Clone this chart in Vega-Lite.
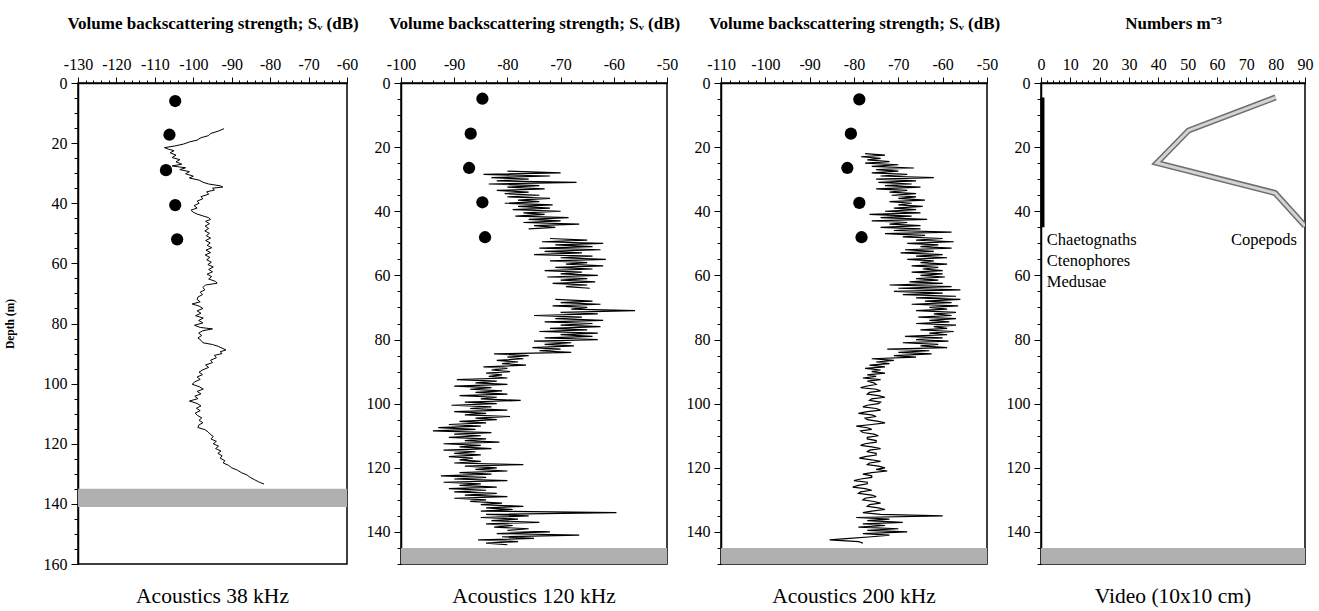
{
"$schema": "https://vega.github.io/schema/vega-lite/v6.json",
"padding": {"left": 3, "top": 13, "right": 0, "bottom": 0},
"background": "white",
"spacing": 54,
"bounds": "flush",
"config": {
  "font": "Liberation Serif",
  "view": {"stroke": "#000", "strokeWidth": 1.5},
  "axis": {"domainColor": "#000", "domainWidth": 1.5, "tickColor": "#000", "tickWidth": 1, "labelFont": "Liberation Serif", "labelFontSize": 16, "labelColor": "#000", "titleFont": "Liberation Serif", "titleColor": "#000", "titleFontWeight": "bold", "grid": false, "labelOverlap": false, "labelFlush": false, "labelBound": false, "tickCount": 200},
  "axisX": {"titleFontSize": 17},
  "axisY": {"titleFontSize": 11.5},
  "title": {"font": "Liberation Serif", "fontSize": 21.5, "fontWeight": "normal", "color": "#000", "orient": "bottom", "anchor": "middle", "offset": 14}
},
"datasets": {
  "s38": [{"d":15.2,"v":-92},{"d":16,"v":-93.5},{"d":16.8,"v":-95.5},{"d":17.5,"v":-96},{"d":18.2,"v":-98},{"d":19,"v":-99},{"d":19.6,"v":-101},{"d":20.3,"v":-102.5},{"d":21,"v":-105},{"d":21.5,"v":-107.5},{"d":22,"v":-106.5},{"d":22.5,"v":-105},{"d":23.2,"v":-106},{"d":24,"v":-104.5},{"d":24.8,"v":-105.5},{"d":25.5,"v":-103.5},{"d":26.2,"v":-104.5},{"d":27,"v":-103},{"d":27.6,"v":-105.5},{"d":28.2,"v":-102},{"d":28.8,"v":-103.5},{"d":29.5,"v":-101},{"d":30.2,"v":-102},{"d":31,"v":-100},{"d":31.6,"v":-101},{"d":32.3,"v":-98.5},{"d":33,"v":-97.5},{"d":33.6,"v":-96},{"d":34.2,"v":-93},{"d":34.6,"v":-92.3},{"d":35,"v":-95},{"d":35.6,"v":-94.5},{"d":36.2,"v":-96.5},{"d":37,"v":-96},{"d":37.8,"v":-98},{"d":38.5,"v":-97.5},{"d":39.3,"v":-99},{"d":40,"v":-98.5},{"d":40.8,"v":-99.8},{"d":41.6,"v":-99},{"d":42.3,"v":-100.6},{"d":43,"v":-100},{"d":43.6,"v":-99},{"d":44.2,"v":-97.5},{"d":44.8,"v":-96},{"d":45.4,"v":-95.5},{"d":46,"v":-96.8},{"d":46.8,"v":-95.8},{"d":47.6,"v":-96.9},{"d":48.4,"v":-96},{"d":49.2,"v":-97},{"d":50,"v":-95.8},{"d":50.8,"v":-96.6},{"d":51.6,"v":-95.5},{"d":52.4,"v":-96.8},{"d":53.2,"v":-95.6},{"d":54,"v":-96.4},{"d":54.8,"v":-95.2},{"d":55.6,"v":-96.7},{"d":56.4,"v":-95.5},{"d":57.2,"v":-96.9},{"d":58,"v":-95.7},{"d":58.8,"v":-96.5},{"d":59.6,"v":-95.3},{"d":60.4,"v":-96.2},{"d":61.2,"v":-94.8},{"d":62,"v":-96},{"d":62.8,"v":-95},{"d":63.6,"v":-96.4},{"d":64.4,"v":-95.2},{"d":65.2,"v":-96},{"d":66,"v":-94.2},{"d":66.6,"v":-93.8},{"d":67.2,"v":-96.8},{"d":68,"v":-97.5},{"d":68.8,"v":-97},{"d":69.6,"v":-98.2},{"d":70.4,"v":-97.6},{"d":71.2,"v":-98.8},{"d":72,"v":-99},{"d":72.8,"v":-98.2},{"d":73.5,"v":-100.3},{"d":74.2,"v":-98.5},{"d":75,"v":-97.5},{"d":75.8,"v":-99},{"d":76.6,"v":-98},{"d":77.4,"v":-99.4},{"d":78.2,"v":-97.4},{"d":79,"v":-98.6},{"d":79.8,"v":-97.5},{"d":80.6,"v":-99.7},{"d":81.3,"v":-98.2},{"d":81.8,"v":-95},{"d":82.4,"v":-97.5},{"d":83.2,"v":-98.6},{"d":84,"v":-97.8},{"d":84.8,"v":-98.8},{"d":85.6,"v":-98},{"d":86.4,"v":-97.5},{"d":87,"v":-95},{"d":87.6,"v":-93.5},{"d":88.2,"v":-92.5},{"d":88.8,"v":-91.5},{"d":89.4,"v":-93},{"d":90,"v":-92.5},{"d":90.6,"v":-94.5},{"d":91.4,"v":-94},{"d":92.2,"v":-95.5},{"d":93,"v":-95},{"d":93.8,"v":-96.8},{"d":94.6,"v":-96},{"d":95.4,"v":-97.5},{"d":96.2,"v":-98.5},{"d":97,"v":-97.6},{"d":97.8,"v":-99},{"d":98.6,"v":-98.2},{"d":99.4,"v":-99.6},{"d":100.2,"v":-100.3},{"d":101,"v":-98.5},{"d":101.8,"v":-97.4},{"d":102.6,"v":-99},{"d":103.4,"v":-98},{"d":104.2,"v":-99.6},{"d":105,"v":-98.8},{"d":105.8,"v":-101},{"d":106.6,"v":-99},{"d":107.4,"v":-98},{"d":108.2,"v":-99.2},{"d":109,"v":-98.2},{"d":109.8,"v":-99.5},{"d":110.6,"v":-98.9},{"d":111.4,"v":-97.8},{"d":112.2,"v":-98.5},{"d":113,"v":-97.5},{"d":113.8,"v":-98.6},{"d":114.6,"v":-98.8},{"d":115.3,"v":-97},{"d":116,"v":-96.2},{"d":116.8,"v":-95.6},{"d":117.6,"v":-94.8},{"d":118.4,"v":-95.4},{"d":119.2,"v":-94},{"d":120,"v":-94.8},{"d":120.8,"v":-93.4},{"d":121.6,"v":-94.2},{"d":122.4,"v":-92.8},{"d":123.2,"v":-93.6},{"d":124,"v":-92.5},{"d":124.8,"v":-93},{"d":125.6,"v":-91.8},{"d":126.4,"v":-92.2},{"d":127.2,"v":-90.8},{"d":128,"v":-90},{"d":128.8,"v":-88.5},{"d":129.6,"v":-87.5},{"d":130.4,"v":-86},{"d":131.2,"v":-85.2},{"d":132,"v":-84},{"d":132.8,"v":-82.8},{"d":133.4,"v":-81.6}],
  "s120": [{"s":1,"d":27.5,"v":-80},{"s":1,"d":28,"v":-70},{"s":1,"d":28.5,"v":-84.5},{"s":1,"d":29,"v":-72},{"s":1,"d":29.5,"v":-83},{"s":1,"d":30,"v":-76},{"s":1,"d":30.5,"v":-82},{"s":1,"d":31,"v":-67},{"s":1,"d":31.5,"v":-83.5},{"s":1,"d":32,"v":-74},{"s":1,"d":32.5,"v":-80},{"s":1,"d":33,"v":-73},{"s":1,"d":33.5,"v":-82},{"s":1,"d":34,"v":-76},{"s":1,"d":34.5,"v":-80.5},{"s":1,"d":35,"v":-74},{"s":1,"d":35.5,"v":-80},{"s":1,"d":36,"v":-72},{"s":1,"d":36.5,"v":-78},{"s":1,"d":37,"v":-74},{"s":1,"d":37.5,"v":-80.5},{"s":1,"d":38,"v":-71.5},{"s":1,"d":38.5,"v":-78},{"s":1,"d":39,"v":-72},{"s":1,"d":39.5,"v":-79},{"s":1,"d":40,"v":-70},{"s":1,"d":40.5,"v":-77},{"s":1,"d":41,"v":-73},{"s":1,"d":41.5,"v":-78.5},{"s":1,"d":42,"v":-68.5},{"s":1,"d":42.5,"v":-76},{"s":1,"d":43,"v":-70},{"s":1,"d":43.5,"v":-77},{"s":1,"d":44,"v":-66.5},{"s":1,"d":44.5,"v":-75},{"s":1,"d":45,"v":-71},{"s":1,"d":45.5,"v":-76},
  {"s":2,"d":48.5,"v":-72},{"s":2,"d":49,"v":-65},{"s":2,"d":49.5,"v":-73.5},{"s":2,"d":50,"v":-62},{"s":2,"d":50.5,"v":-71},{"s":2,"d":51,"v":-64},{"s":2,"d":51.5,"v":-74},{"s":2,"d":52,"v":-62.5},{"s":2,"d":52.5,"v":-73},{"s":2,"d":53,"v":-66},{"s":2,"d":53.5,"v":-75},{"s":2,"d":54,"v":-64},{"s":2,"d":54.5,"v":-70},{"s":2,"d":55,"v":-61.5},{"s":2,"d":55.5,"v":-72},{"s":2,"d":56,"v":-65},{"s":2,"d":56.5,"v":-69},{"s":2,"d":57,"v":-62},{"s":2,"d":57.5,"v":-71},{"s":2,"d":58,"v":-64},{"s":2,"d":58.5,"v":-73},{"s":2,"d":59,"v":-66},{"s":2,"d":59.5,"v":-70},{"s":2,"d":60,"v":-63},{"s":2,"d":60.5,"v":-72.5},{"s":2,"d":61,"v":-65},{"s":2,"d":61.5,"v":-70},{"s":2,"d":62,"v":-63.5},{"s":2,"d":62.5,"v":-71.5},{"s":2,"d":63,"v":-65},{"s":2,"d":63.5,"v":-69},{"s":2,"d":64,"v":-64.5},
  {"s":3,"d":67.5,"v":-71},{"s":3,"d":68,"v":-64},{"s":3,"d":68.5,"v":-70},{"s":3,"d":69,"v":-62.5},{"s":3,"d":69.5,"v":-71.5},{"s":3,"d":70,"v":-65},{"s":3,"d":70.5,"v":-68},{"s":3,"d":71,"v":-56},{"s":3,"d":71.5,"v":-70},{"s":3,"d":72,"v":-63},{"s":3,"d":72.5,"v":-75},{"s":3,"d":73,"v":-66},{"s":3,"d":73.5,"v":-71},{"s":3,"d":74,"v":-62},{"s":3,"d":74.5,"v":-73},{"s":3,"d":75,"v":-64},{"s":3,"d":75.5,"v":-70},{"s":3,"d":76,"v":-62.5},{"s":3,"d":76.5,"v":-72},{"s":3,"d":77,"v":-65},{"s":3,"d":77.5,"v":-74},{"s":3,"d":78,"v":-63},{"s":3,"d":78.5,"v":-70},{"s":3,"d":79,"v":-64},{"s":3,"d":79.5,"v":-73},{"s":3,"d":80,"v":-63},{"s":3,"d":80.5,"v":-75},{"s":3,"d":81,"v":-68},{"s":3,"d":81.5,"v":-73},{"s":3,"d":82,"v":-67.5},{"s":3,"d":82.5,"v":-75.3},{"s":3,"d":83,"v":-70},{"s":3,"d":83.5,"v":-74},{"s":3,"d":84,"v":-68},{"s":3,"d":84.5,"v":-82.5},{"s":3,"d":85,"v":-76},{"s":3,"d":85.5,"v":-80},{"s":3,"d":86,"v":-77},{"s":3,"d":86.5,"v":-82},{"s":3,"d":87,"v":-78},{"s":3,"d":87.5,"v":-81},{"s":3,"d":88,"v":-76.5},{"s":3,"d":88.5,"v":-84.5},{"s":3,"d":89,"v":-80},{"s":3,"d":89.5,"v":-83},{"s":3,"d":90,"v":-79.5},{"s":3,"d":90.5,"v":-84},{"s":3,"d":91,"v":-81},{"s":3,"d":91.5,"v":-83.5},{"s":3,"d":92,"v":-80},{"s":3,"d":92.5,"v":-89.5},{"s":3,"d":93,"v":-82},{"s":3,"d":93.5,"v":-86},{"s":3,"d":94,"v":-80},{"s":3,"d":94.5,"v":-90},{"s":3,"d":95,"v":-83},{"s":3,"d":95.5,"v":-87},{"s":3,"d":96,"v":-81},{"s":3,"d":96.5,"v":-86},{"s":3,"d":97,"v":-80},{"s":3,"d":97.5,"v":-89},{"s":3,"d":98,"v":-82},{"s":3,"d":98.5,"v":-85},{"s":3,"d":99,"v":-77.5},{"s":3,"d":99.5,"v":-88},{"s":3,"d":100,"v":-82},{"s":3,"d":100.5,"v":-90.5},{"s":3,"d":101,"v":-83},{"s":3,"d":101.5,"v":-87},{"s":3,"d":102,"v":-80},{"s":3,"d":102.5,"v":-90},{"s":3,"d":103,"v":-84},{"s":3,"d":103.5,"v":-88},{"s":3,"d":104,"v":-79.5},{"s":3,"d":104.5,"v":-86},{"s":3,"d":105,"v":-82},{"s":3,"d":105.5,"v":-89},{"s":3,"d":106,"v":-84},{"s":3,"d":106.5,"v":-91},{"s":3,"d":107,"v":-85},{"s":3,"d":107.5,"v":-93},{"s":3,"d":108,"v":-86},{"s":3,"d":108.5,"v":-94},{"s":3,"d":109,"v":-83},{"s":3,"d":109.5,"v":-90},{"s":3,"d":110,"v":-85},{"s":3,"d":110.5,"v":-91},{"s":3,"d":111,"v":-84},{"s":3,"d":111.5,"v":-88},{"s":3,"d":112,"v":-81.5},{"s":3,"d":112.5,"v":-92},{"s":3,"d":113,"v":-85},{"s":3,"d":113.5,"v":-89},{"s":3,"d":114,"v":-83},{"s":3,"d":114.5,"v":-92},{"s":3,"d":115,"v":-86},{"s":3,"d":115.5,"v":-90},{"s":3,"d":116,"v":-85},{"s":3,"d":116.5,"v":-91},{"s":3,"d":117,"v":-86.5},{"s":3,"d":117.5,"v":-89},{"s":3,"d":118,"v":-85},{"s":3,"d":118.5,"v":-90},{"s":3,"d":119,"v":-77},{"s":3,"d":119.5,"v":-88},{"s":3,"d":120,"v":-82},{"s":3,"d":120.5,"v":-86},{"s":3,"d":121,"v":-80},{"s":3,"d":121.5,"v":-89},{"s":3,"d":122,"v":-83},{"s":3,"d":122.5,"v":-92.5},{"s":3,"d":123,"v":-84},{"s":3,"d":123.5,"v":-90},{"s":3,"d":124,"v":-80},{"s":3,"d":124.5,"v":-92},{"s":3,"d":125,"v":-85},{"s":3,"d":125.5,"v":-89},{"s":3,"d":126,"v":-82},{"s":3,"d":126.5,"v":-91},{"s":3,"d":127,"v":-84},{"s":3,"d":127.5,"v":-90},{"s":3,"d":128,"v":-82},{"s":3,"d":128.5,"v":-88},{"s":3,"d":129,"v":-80},{"s":3,"d":129.5,"v":-90},{"s":3,"d":130,"v":-84},{"s":3,"d":130.5,"v":-87},{"s":3,"d":131,"v":-81},{"s":3,"d":131.5,"v":-85},{"s":3,"d":132,"v":-77},{"s":3,"d":132.5,"v":-84},{"s":3,"d":133,"v":-79},{"s":3,"d":133.5,"v":-85},{"s":3,"d":134,"v":-59.5},{"s":3,"d":134.5,"v":-84},{"s":3,"d":135,"v":-76},{"s":3,"d":135.5,"v":-85},{"s":3,"d":136,"v":-78},{"s":3,"d":136.5,"v":-83},{"s":3,"d":137,"v":-74},{"s":3,"d":137.5,"v":-84},{"s":3,"d":138,"v":-79},{"s":3,"d":138.5,"v":-82.5},{"s":3,"d":139,"v":-76},{"s":3,"d":139.5,"v":-80},{"s":3,"d":140,"v":-72},{"s":3,"d":140.5,"v":-82},{"s":3,"d":141,"v":-66.5},{"s":3,"d":141.5,"v":-81},{"s":3,"d":142,"v":-75},{"s":3,"d":142.5,"v":-85.5},{"s":3,"d":143,"v":-78},{"s":3,"d":143.5,"v":-84},{"s":3,"d":144,"v":-80}],
  "s200": [{"d":22,"v":-77.5},{"d":22.5,"v":-73},{"d":23,"v":-78.4},{"d":23.5,"v":-74},{"d":24,"v":-77},{"d":24.5,"v":-72},{"d":25,"v":-77.5},{"d":25.5,"v":-70},{"d":26,"v":-76},{"d":26.5,"v":-66.5},{"d":27,"v":-75},{"d":27.5,"v":-70},{"d":28,"v":-76},{"d":28.5,"v":-68},{"d":29,"v":-74},{"d":29.5,"v":-62},{"d":30,"v":-75},{"d":30.5,"v":-66},{"d":31,"v":-74.5},{"d":31.5,"v":-67},{"d":32,"v":-73},{"d":32.5,"v":-65},{"d":33,"v":-75},{"d":33.5,"v":-68},{"d":34,"v":-72},{"d":34.5,"v":-66},{"d":35,"v":-71.5},{"d":35.5,"v":-66},{"d":36,"v":-70},{"d":36.5,"v":-64},{"d":37,"v":-72},{"d":37.5,"v":-67},{"d":38,"v":-70},{"d":38.5,"v":-64.5},{"d":39,"v":-71},{"d":39.5,"v":-66},{"d":40,"v":-73},{"d":40.5,"v":-65},{"d":41,"v":-76.5},{"d":41.5,"v":-67},{"d":42,"v":-74},{"d":42.5,"v":-63.5},{"d":43,"v":-76},{"d":43.5,"v":-68},{"d":44,"v":-72},{"d":44.5,"v":-65},{"d":45,"v":-74},{"d":45.5,"v":-65},{"d":46,"v":-71},{"d":46.5,"v":-58},{"d":47,"v":-73},{"d":47.5,"v":-64},{"d":48,"v":-69},{"d":48.5,"v":-60},{"d":49,"v":-66},{"d":49.5,"v":-57.5},{"d":50,"v":-68},{"d":50.5,"v":-61},{"d":51,"v":-65},{"d":51.5,"v":-58},{"d":52,"v":-68.5},{"d":52.5,"v":-62},{"d":53,"v":-69.5},{"d":53.5,"v":-60},{"d":54,"v":-66},{"d":54.5,"v":-59},{"d":55,"v":-68},{"d":55.5,"v":-62},{"d":56,"v":-65},{"d":56.5,"v":-59},{"d":57,"v":-67},{"d":57.5,"v":-61},{"d":58,"v":-64.5},{"d":58.5,"v":-60},{"d":59,"v":-67},{"d":59.5,"v":-60},{"d":60,"v":-65},{"d":60.5,"v":-59.5},{"d":61,"v":-66},{"d":61.5,"v":-61},{"d":62,"v":-67.5},{"d":62.5,"v":-60},{"d":63,"v":-72},{"d":63.5,"v":-58},{"d":64,"v":-70},{"d":64.5,"v":-56},{"d":65,"v":-71},{"d":65.5,"v":-60},{"d":66,"v":-69},{"d":66.5,"v":-57},{"d":67,"v":-66},{"d":67.5,"v":-56},{"d":68,"v":-64},{"d":68.5,"v":-58},{"d":69,"v":-67},{"d":69.5,"v":-56.5},{"d":70,"v":-63},{"d":70.5,"v":-59},{"d":71,"v":-66},{"d":71.5,"v":-57},{"d":72,"v":-62},{"d":72.5,"v":-58},{"d":73,"v":-65.5},{"d":73.5,"v":-57},{"d":74,"v":-63},{"d":74.5,"v":-58.5},{"d":75,"v":-66},{"d":75.5,"v":-57},{"d":76,"v":-62},{"d":76.5,"v":-59},{"d":77,"v":-65},{"d":77.5,"v":-57.5},{"d":78,"v":-63},{"d":78.5,"v":-59},{"d":79,"v":-68.5},{"d":79.5,"v":-60},{"d":80,"v":-66},{"d":80.5,"v":-58.7},{"d":81,"v":-69},{"d":81.5,"v":-61},{"d":82,"v":-65},{"d":82.5,"v":-59},{"d":83,"v":-72.5},{"d":83.5,"v":-63},{"d":84,"v":-70},{"d":84.5,"v":-62.5},{"d":85,"v":-71},{"d":85.5,"v":-66},{"d":86,"v":-76},{"d":86.5,"v":-71},{"d":87,"v":-75},{"d":87.5,"v":-72},{"d":88,"v":-76.5},{"d":88.5,"v":-73},{"d":89,"v":-77.5},{"d":89.5,"v":-74},{"d":90,"v":-76},{"d":90.5,"v":-73},{"d":91,"v":-77},{"d":91.5,"v":-75},{"d":92,"v":-78},{"d":92.5,"v":-74},{"d":93,"v":-77},{"d":93.5,"v":-75.5},{"d":94,"v":-75},{"d":94.5,"v":-77},{"d":95,"v":-78.5},{"d":95.5,"v":-75},{"d":96,"v":-74},{"d":96.5,"v":-76.5},{"d":97,"v":-77},{"d":97.5,"v":-74.5},{"d":98,"v":-73},{"d":98.5,"v":-76},{"d":99,"v":-76.5},{"d":99.5,"v":-74},{"d":100,"v":-74.5},{"d":100.5,"v":-77},{"d":101,"v":-78},{"d":101.5,"v":-75},{"d":102,"v":-74},{"d":102.5,"v":-77},{"d":103,"v":-79},{"d":103.5,"v":-76},{"d":104,"v":-75},{"d":104.5,"v":-77.5},{"d":105,"v":-77},{"d":105.5,"v":-74.5},{"d":106,"v":-73},{"d":106.5,"v":-76},{"d":107,"v":-79.5},{"d":107.5,"v":-77},{"d":108,"v":-76},{"d":108.5,"v":-78.5},{"d":109,"v":-78},{"d":109.5,"v":-75.5},{"d":110,"v":-74.5},{"d":110.5,"v":-77},{"d":111,"v":-77},{"d":111.5,"v":-75},{"d":112,"v":-75},{"d":112.5,"v":-77.5},{"d":113,"v":-78.5},{"d":113.5,"v":-76},{"d":114,"v":-74},{"d":114.5,"v":-76.5},{"d":115,"v":-77},{"d":115.5,"v":-75},{"d":116,"v":-75},{"d":116.5,"v":-77.5},{"d":117,"v":-78.8},{"d":117.5,"v":-76},{"d":118,"v":-74},{"d":118.5,"v":-76.5},{"d":119,"v":-77},{"d":119.5,"v":-74.5},{"d":120,"v":-73},{"d":120.5,"v":-75},{"d":121,"v":-72.5},{"d":121.5,"v":-76},{"d":122,"v":-78},{"d":122.5,"v":-76},{"d":123,"v":-76},{"d":123.5,"v":-78.5},{"d":124,"v":-80},{"d":124.5,"v":-77},{"d":125,"v":-77},{"d":125.5,"v":-79},{"d":126,"v":-80.3},{"d":126.5,"v":-77.5},{"d":127,"v":-76},{"d":127.5,"v":-78.5},{"d":128,"v":-79},{"d":128.5,"v":-76},{"d":129,"v":-75},{"d":129.5,"v":-77.5},{"d":130,"v":-78},{"d":130.5,"v":-75.5},{"d":131,"v":-74},{"d":131.5,"v":-76.5},{"d":132,"v":-77},{"d":132.5,"v":-74.5},{"d":133,"v":-73},{"d":133.5,"v":-76},{"d":134,"v":-78},{"d":134.5,"v":-74},{"d":135,"v":-60},{"d":135.5,"v":-79.5},{"d":136,"v":-72},{"d":136.5,"v":-77},{"d":137,"v":-69},{"d":137.5,"v":-78},{"d":138,"v":-73},{"d":138.5,"v":-79},{"d":139,"v":-70},{"d":139.5,"v":-77},{"d":140,"v":-68},{"d":140.5,"v":-78},{"d":141,"v":-72},{"d":141.5,"v":-76},{"d":142,"v":-81},{"d":142.5,"v":-85.5},{"d":143,"v":-79},{"d":143.5,"v":-78}],
  "dots": [{"p":"38","d":6,"v":-104.7},{"p":"38","d":17.2,"v":-106.2},{"p":"38","d":29,"v":-107.1},{"p":"38","d":40.6,"v":-104.7},{"p":"38","d":52,"v":-104.2},{"p":"120","d":4.9,"v":-84.7},{"p":"120","d":15.8,"v":-86.9},{"p":"120","d":26.5,"v":-87.2},{"p":"120","d":37.2,"v":-84.7},{"p":"120","d":48.1,"v":-84.2},{"p":"200","d":5.1,"v":-78.8},{"p":"200","d":15.8,"v":-80.7},{"p":"200","d":26.5,"v":-81.5},{"p":"200","d":37.4,"v":-78.8},{"p":"200","d":48.1,"v":-78.3}],
  "cop": [{"d":4.5,"v":80},{"d":14.8,"v":50.3},{"d":24.9,"v":39.5},{"d":34.3,"v":79.8},{"d":44.6,"v":90}],
  "gel": [{"d":4.5,"v":0.5},{"d":45,"v":0.5}]
},
"hconcat": [
  {
    "width": 269, "height": 481,
    "title": {"text": "Acoustics 38 kHz"},
    "layer": [
      {"data": {"name": "s38"}, "mark": {"type": "line", "color": "#000", "strokeWidth": 1, "clip": true},
       "encoding": {
         "x": {"field": "v", "type": "quantitative", "scale": {"domain": [-130, -60], "nice": false, "zero": false},
               "axis": {"orient": "top", "title": "Volume backscattering strength; Sᵥ (dB)", "titleFontWeight": "bold", "titleFontSize": 17, "titlePadding": 24, "labelPadding": 5, "labelOverlap": false, "tickCount": 200,
                        "values": [-130,-128,-126,-124,-122,-120,-118,-116,-114,-112,-110,-108,-106,-104,-102,-100,-98,-96,-94,-92,-90,-88,-86,-84,-82,-80,-78,-76,-74,-72,-70,-68,-66,-64,-62,-60],
                        "labelExpr": "datum.value % 10 === 0 ? '' + datum.value : ''",
                        "tickSize": {"condition": {"test": "datum.value % 10 === 0", "value": 6}, "value": 3}}},
         "y": {"field": "d", "type": "quantitative", "scale": {"domain": [0, 160], "reverse": true, "nice": false, "zero": false},
               "axis": {"title": "Depth (m)", "titleFontWeight": "bold", "titleFontSize": 11.5, "titlePadding": 28, "labelPadding": 4, "labelOverlap": false, "tickCount": 200,
                        "values": [0,5,10,15,20,25,30,35,40,45,50,55,60,65,70,75,80,85,90,95,100,105,110,115,120,125,130,135,140,145,150,155,160],
                        "labelExpr": "datum.value % 20 === 0 ? '' + datum.value : ''",
                        "tickSize": {"condition": {"test": "datum.value % 20 === 0", "value": 7}, "value": 4}}},
         "order": {"field": "d", "type": "quantitative"}
       }},
      {"data": {"values": [{}]}, "mark": {"type": "rect", "fill": "#b0b0b0"},
       "encoding": {"x": {"datum": -130, "type": "quantitative"}, "x2": {"datum": -60}, "y": {"datum": 135, "type": "quantitative"}, "y2": {"datum": 141}}},
      {"data": {"name": "dots"}, "transform": [{"filter": "datum.p === '38'"}], "mark": {"type": "circle", "color": "#000", "opacity": 1, "size": 150},
       "encoding": {"x": {"field": "v", "type": "quantitative"}, "y": {"field": "d", "type": "quantitative"}}}
    ]
  },
  {
    "width": 266, "height": 481,
    "title": {"text": "Acoustics 120 kHz"},
    "layer": [
      {"data": {"name": "s120"}, "mark": {"type": "line", "color": "#000", "strokeWidth": 1.2, "clip": true},
       "encoding": {
         "x": {"field": "v", "type": "quantitative", "scale": {"domain": [-100, -50], "nice": false, "zero": false},
               "axis": {"orient": "top", "title": "Volume backscattering strength; Sᵥ (dB)", "titleFontWeight": "bold", "titleFontSize": 17, "titlePadding": 24, "labelPadding": 5, "labelOverlap": false, "tickCount": 200,
                        "values": [-100,-98,-96,-94,-92,-90,-88,-86,-84,-82,-80,-78,-76,-74,-72,-70,-68,-66,-64,-62,-60,-58,-56,-54,-52,-50],
                        "labelExpr": "datum.value % 10 === 0 ? '' + datum.value : ''",
                        "tickSize": {"condition": {"test": "datum.value % 10 === 0", "value": 6}, "value": 3}}},
         "y": {"field": "d", "type": "quantitative", "scale": {"domain": [0, 150], "reverse": true, "nice": false, "zero": false},
               "axis": {"title": null, "labelPadding": 4, "labelOverlap": false, "tickCount": 200,
                        "values": [0,5,10,15,20,25,30,35,40,45,50,55,60,65,70,75,80,85,90,95,100,105,110,115,120,125,130,135,140,145,150],
                        "labelExpr": "datum.value % 20 === 0 ? '' + datum.value : ''",
                        "tickSize": {"condition": {"test": "datum.value % 20 === 0", "value": 7}, "value": 4}}},
         "detail": {"field": "s"},
         "order": {"field": "d", "type": "quantitative"}
       }},
      {"data": {"values": [{}]}, "mark": {"type": "rect", "fill": "#b0b0b0"},
       "encoding": {"x": {"datum": -100, "type": "quantitative"}, "x2": {"datum": -50}, "y": {"datum": 145, "type": "quantitative"}, "y2": {"datum": 150}}},
      {"data": {"name": "dots"}, "transform": [{"filter": "datum.p === '120'"}], "mark": {"type": "circle", "color": "#000", "opacity": 1, "size": 150},
       "encoding": {"x": {"field": "v", "type": "quantitative"}, "y": {"field": "d", "type": "quantitative"}}}
    ]
  },
  {
    "width": 266, "height": 481,
    "title": {"text": "Acoustics 200 kHz"},
    "layer": [
      {"data": {"name": "s200"}, "mark": {"type": "line", "color": "#000", "strokeWidth": 1.2, "clip": true},
       "encoding": {
         "x": {"field": "v", "type": "quantitative", "scale": {"domain": [-110, -50], "nice": false, "zero": false},
               "axis": {"orient": "top", "title": "Volume backscattering strength; Sᵥ (dB)", "titleFontWeight": "bold", "titleFontSize": 17, "titlePadding": 24, "labelPadding": 5, "labelOverlap": false, "tickCount": 200,
                        "values": [-110,-108,-106,-104,-102,-100,-98,-96,-94,-92,-90,-88,-86,-84,-82,-80,-78,-76,-74,-72,-70,-68,-66,-64,-62,-60,-58,-56,-54,-52,-50],
                        "labelExpr": "datum.value % 10 === 0 ? '' + datum.value : ''",
                        "tickSize": {"condition": {"test": "datum.value % 10 === 0", "value": 6}, "value": 3}}},
         "y": {"field": "d", "type": "quantitative", "scale": {"domain": [0, 150], "reverse": true, "nice": false, "zero": false},
               "axis": {"title": null, "labelPadding": 4, "labelOverlap": false, "tickCount": 200,
                        "values": [0,5,10,15,20,25,30,35,40,45,50,55,60,65,70,75,80,85,90,95,100,105,110,115,120,125,130,135,140,145,150],
                        "labelExpr": "datum.value % 20 === 0 ? '' + datum.value : ''",
                        "tickSize": {"condition": {"test": "datum.value % 20 === 0", "value": 7}, "value": 4}}},
         "order": {"field": "d", "type": "quantitative"}
       }},
      {"data": {"values": [{}]}, "mark": {"type": "rect", "fill": "#b0b0b0"},
       "encoding": {"x": {"datum": -110, "type": "quantitative"}, "x2": {"datum": -50}, "y": {"datum": 145, "type": "quantitative"}, "y2": {"datum": 150}}},
      {"data": {"name": "dots"}, "transform": [{"filter": "datum.p === '200'"}], "mark": {"type": "circle", "color": "#000", "opacity": 1, "size": 150},
       "encoding": {"x": {"field": "v", "type": "quantitative"}, "y": {"field": "d", "type": "quantitative"}}}
    ]
  },
  {
    "width": 264, "height": 481,
    "title": {"text": "Video (10x10 cm)"},
    "layer": [
      {"data": {"name": "cop"}, "mark": {"type": "line", "color": "#6e6e6e", "strokeWidth": 6, "strokeCap": "butt", "clip": true},
       "encoding": {
         "x": {"field": "v", "type": "quantitative", "scale": {"domain": [0, 90], "nice": false, "zero": false},
               "axis": {"orient": "top", "title": "Numbers m⁻³", "titleFontWeight": "bold", "titleFontSize": 17, "titlePadding": 24, "labelPadding": 5, "labelOverlap": false, "tickCount": 200,
                        "values": [0,2,4,6,8,10,12,14,16,18,20,22,24,26,28,30,32,34,36,38,40,42,44,46,48,50,52,54,56,58,60,62,64,66,68,70,72,74,76,78,80,82,84,86,88,90],
                        "labelExpr": "datum.value % 10 === 0 ? '' + datum.value : ''",
                        "tickSize": {"condition": {"test": "datum.value % 10 === 0", "value": 6}, "value": 3}}},
         "y": {"field": "d", "type": "quantitative", "scale": {"domain": [0, 150], "reverse": true, "nice": false, "zero": false},
               "axis": {"title": null, "labelPadding": 4, "labelOverlap": false, "tickCount": 200,
                        "values": [0,5,10,15,20,25,30,35,40,45,50,55,60,65,70,75,80,85,90,95,100,105,110,115,120,125,130,135,140,145,150],
                        "labelExpr": "datum.value % 20 === 0 ? '' + datum.value : ''",
                        "tickSize": {"condition": {"test": "datum.value % 20 === 0", "value": 7}, "value": 4}}},
         "order": {"field": "d", "type": "quantitative"}
       }},
      {"data": {"name": "cop"}, "mark": {"type": "line", "color": "#d4d4d4", "strokeWidth": 3, "strokeCap": "butt", "clip": true},
       "encoding": {"x": {"field": "v", "type": "quantitative"}, "y": {"field": "d", "type": "quantitative"}, "order": {"field": "d", "type": "quantitative"}}},
      {"data": {"name": "gel"}, "mark": {"type": "line", "color": "#000", "strokeWidth": 4},
       "encoding": {"x": {"field": "v", "type": "quantitative"}, "y": {"field": "d", "type": "quantitative"}, "order": {"field": "d", "type": "quantitative"}}},
      {"data": {"values": [{}]}, "mark": {"type": "rect", "fill": "#b0b0b0"},
       "encoding": {"x": {"datum": 0, "type": "quantitative"}, "x2": {"datum": 90}, "y": {"datum": 145, "type": "quantitative"}, "y2": {"datum": 150}}},
      {"data": {"values": [{}]}, "mark": {"type": "text", "align": "left", "baseline": "middle", "fontSize": 16.5, "lineHeight": 21, "color": "#000", "font": "Liberation Serif", "text": ["Chaetognaths", "Ctenophores", "Medusae"]},
       "encoding": {"x": {"datum": 2, "type": "quantitative"}, "y": {"datum": 49, "type": "quantitative"}}},
      {"data": {"values": [{}]}, "mark": {"type": "text", "align": "center", "baseline": "middle", "fontSize": 16.5, "color": "#000", "font": "Liberation Serif", "text": "Copepods"},
       "encoding": {"x": {"datum": 76, "type": "quantitative"}, "y": {"datum": 49, "type": "quantitative"}}}
    ]
  }
]
}
